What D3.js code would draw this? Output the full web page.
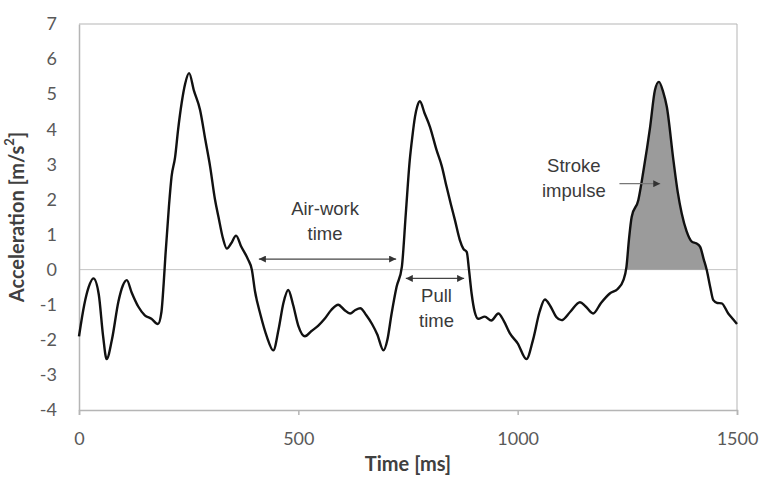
<!DOCTYPE html>
<html>
<head>
<meta charset="utf-8">
<script src="https://cdn.jsdelivr.net/npm/d3@7"></script>
<style>
  body { margin: 0; background: #fff; }
  svg { display: block; }
</style>
</head>
<body>
<div id="wrapper"></div>
<script>
// time in ms and acceleration in m/s^2
const times = [0, 12, 22, 33, 45, 55, 63, 75, 90, 100, 109, 120, 135, 150, 165, 180, 188, 193, 197, 205,
  211, 219, 226, 234, 242, 251, 262, 276, 288, 299, 310, 318, 328, 337, 347, 358, 370, 385, 394, 401,
  414, 428, 443, 455, 466, 477, 488, 500, 515, 530, 545, 560, 575, 591, 605, 618, 630, 641, 655, 668,
  680, 694, 703, 712, 724, 736, 745, 754, 760, 766, 771, 777, 788, 800, 815, 827, 838, 848, 857, 868,
  876, 884, 889, 895, 902, 910, 925, 940, 956, 968, 982, 1000, 1020, 1035, 1050, 1062, 1075, 1088, 1100, 1120,
  1142, 1155, 1172, 1190, 1210, 1228, 1241, 1248, 1254, 1260, 1275, 1287, 1302, 1313, 1322, 1332, 1340, 1355, 1365, 1374,
  1385, 1397, 1407, 1416, 1424, 1431, 1439, 1446, 1455, 1465, 1480, 1490, 1500];
const accel = [-1.9, -1.0, -0.5, -0.25, -0.7, -1.9, -2.55, -2.0, -0.9, -0.45, -0.3, -0.65, -1.05, -1.3, -1.4, -1.55, -1.2, -0.4, 0.4, 1.8,
  2.65, 3.2, 4.0, 4.75, 5.3, 5.6, 5.1, 4.55, 3.7, 2.93, 2.0, 1.5, 0.9, 0.6, 0.75, 0.97, 0.65, 0.3, 0.0, -0.6,
  -1.3, -1.9, -2.3, -1.7, -0.95, -0.58, -1.0, -1.6, -1.9, -1.75, -1.6, -1.4, -1.15, -1.0, -1.15, -1.25, -1.15, -1.1, -1.3, -1.55,
  -1.85, -2.3, -2.0, -1.3, -0.49, 0.08, 1.6, 3.12, 3.8, 4.36, 4.65, 4.8, 4.45, 4.07, 3.41, 2.95, 2.36, 1.85, 1.41, 0.85,
  0.6, 0.5, 0.0, -0.68, -1.2, -1.4, -1.34, -1.45, -1.25, -1.45, -1.81, -2.1, -2.55, -2.0, -1.2, -0.85, -1.05, -1.35, -1.44, -1.2,
  -0.93, -1.05, -1.25, -0.95, -0.68, -0.55, -0.3, 0.08, 0.9, 1.51, 1.98, 2.84, 4.07, 5.12, 5.35, 5.05, 4.64, 3.12, 2.2, 1.6,
  1.1, 0.8, 0.75, 0.65, 0.3, -0.01, -0.5, -0.87, -0.95, -0.96, -1.25, -1.4, -1.55];

const xTicks = [0, 500, 1000, 1500];
const yTicks = [-4, -3, -2, -1, 0, 1, 2, 3, 4, 5, 6, 7];
const impulseRange = [1246, 1431];

// annotation positions in data units
const airWork = { from: 410, to: 723, y: 0.3, label: ["Air-work", "time"], labelX: 561, labelY: [1.7, 0.99] };
const pullTime = { from: 745, to: 878, y: -0.25, label: ["Pull", "time"], labelX: 815, labelY: [-0.78, -1.49] };
const impulse = { from: 1232, to: 1325, y: 2.45, label: ["Stroke", "impulse"], labelX: 1128, labelY: [2.93, 2.2] };

const data = times.map((t, i) => ({ t: t, v: accel[i] }));

var dimension = {
  width: 763,
  height: 477,
  margin: { top: 24, left: 79, bottom: 67, right: 26 }
};
dimension.boundedWidth = dimension.width - dimension.margin.left - dimension.margin.right;
dimension.boundedHeight = dimension.height - dimension.margin.top - dimension.margin.bottom;

const svg = d3.select("#wrapper").append("svg")
  .attr("width", dimension.width)
  .attr("height", dimension.height);

const bounded = svg.append("g")
  .attr("transform", `translate(${dimension.margin.left},${dimension.margin.top})`);

const xScale = d3.scaleLinear().domain([0, 1500]).range([0, dimension.boundedWidth]);
const yScale = d3.scaleLinear().domain([-4, 7]).range([dimension.boundedHeight, 0]);

const frameColor = "#b5b5b5";
const tickFont = "Lato, 'Open Sans', sans-serif";
const plainNum = d => String(d); // keep the ascii hyphen like the original

// frame lines
bounded.append("line").attr("x1", 0).attr("x2", dimension.boundedWidth).attr("y1", 0).attr("y2", 0)
  .attr("stroke", frameColor);
bounded.append("line").attr("x1", dimension.boundedWidth).attr("x2", dimension.boundedWidth)
  .attr("y1", 0).attr("y2", dimension.boundedHeight).attr("stroke", frameColor);

// zero line
bounded.append("line").attr("x1", 0).attr("x2", dimension.boundedWidth)
  .attr("y1", yScale(0)).attr("y2", yScale(0)).attr("stroke", "#c4c4c4");

// axes
const xAxis = bounded.append("g")
  .attr("transform", `translate(0,${dimension.boundedHeight})`)
  .call(d3.axisBottom(xScale).tickValues(xTicks).tickSize(5).tickPadding(17).tickFormat(plainNum));
const yAxis = bounded.append("g")
  .call(d3.axisLeft(yScale).tickValues(yTicks).tickSize(0).tickPadding(22).tickFormat(plainNum));

[xAxis, yAxis].forEach(ax => {
  ax.select(".domain").attr("stroke", frameColor).attr("stroke-width", 1.5);
  ax.selectAll(".tick line").attr("stroke", frameColor).attr("stroke-width", 1.5);
  ax.selectAll(".tick text")
    .attr("font-family", tickFont)
    .attr("font-size", 18)
    .attr("fill", "#595959");
});

// shaded stroke impulse
const crossAt = (a, b) => a.t + (0 - a.v) * (b.t - a.t) / (b.v - a.v);
let fillPts = data.filter(d => d.t >= impulseRange[0] && d.t <= impulseRange[1] && d.v >= 0);
const firstIdx = data.indexOf(fillPts[0]);
const lastIdx = data.indexOf(fillPts[fillPts.length - 1]);
fillPts = [{ t: crossAt(data[firstIdx - 1], data[firstIdx]), v: 0 }, ...fillPts,
  { t: crossAt(data[lastIdx], data[lastIdx + 1]), v: 0 }];

const areaGen = d3.area()
  .x(d => xScale(d.t))
  .y0(yScale(0))
  .y1(d => yScale(d.v));
bounded.append("path")
  .attr("d", areaGen(fillPts))
  .attr("fill", "#9b9b9b");

// the signal
const lineGen = d3.line()
  .x(d => xScale(d.t))
  .y(d => yScale(d.v))
  .curve(d3.curveMonotoneX);
bounded.append("path")
  .attr("d", lineGen(data))
  .attr("fill", "none")
  .attr("stroke", "#111")
  .attr("stroke-width", 2.4)
  .attr("stroke-linejoin", "round");

// arrow markers
const defs = svg.append("defs");
defs.append("marker").attr("id", "head").attr("viewBox", "0 0 10 10")
  .attr("refX", 10).attr("refY", 5).attr("markerWidth", 10).attr("markerHeight", 7)
  .attr("markerUnits", "userSpaceOnUse").attr("orient", "auto-start-reverse")
  .append("path").attr("d", "M0,0 L10,5 L0,10 Z").attr("fill", "#333");

const annoFont = "'Liberation Sans', Arial, sans-serif";
function annotate(a, both) {
  bounded.append("line")
    .attr("x1", xScale(a.from)).attr("x2", xScale(a.to))
    .attr("y1", yScale(a.y)).attr("y2", yScale(a.y))
    .attr("stroke", both ? "#444" : "#777")
    .attr("stroke-width", 1.4)
    .attr("marker-end", "url(#head)")
    .attr("marker-start", both ? "url(#head)" : null);
  a.label.forEach((s, i) => {
    bounded.append("text")
      .attr("x", xScale(a.labelX))
      .attr("y", yScale(a.labelY[i]))
      .attr("text-anchor", "middle")
      .attr("dominant-baseline", "middle")
      .attr("font-family", annoFont)
      .attr("font-size", 18.5)
      .attr("fill", "#3a3a3a")
      .text(s);
  });
}
annotate(airWork, true);
annotate(pullTime, true);
annotate(impulse, false);

// axis titles
svg.append("text")
  .attr("x", dimension.margin.left + xScale(750))
  .attr("y", 466)
  .attr("text-anchor", "middle")
  .attr("dominant-baseline", "middle")
  .attr("font-family", tickFont)
  .attr("font-weight", "bold")
  .attr("font-size", 20)
  .attr("fill", "#404040")
  .text("Time [ms]");

const yTitle = svg.append("text")
  .attr("transform", `translate(19,${dimension.margin.top + yScale(1.5)}) rotate(-90)`)
  .attr("text-anchor", "middle")
  .attr("dominant-baseline", "middle")
  .attr("font-family", tickFont)
  .attr("font-weight", "bold")
  .attr("font-size", 20)
  .attr("fill", "#404040");
yTitle.append("tspan").text("Acceleration [m/s");
yTitle.append("tspan").attr("baseline-shift", "super").attr("font-size", 13).text("2");
yTitle.append("tspan").text("]");
</script>
</body>
</html>
